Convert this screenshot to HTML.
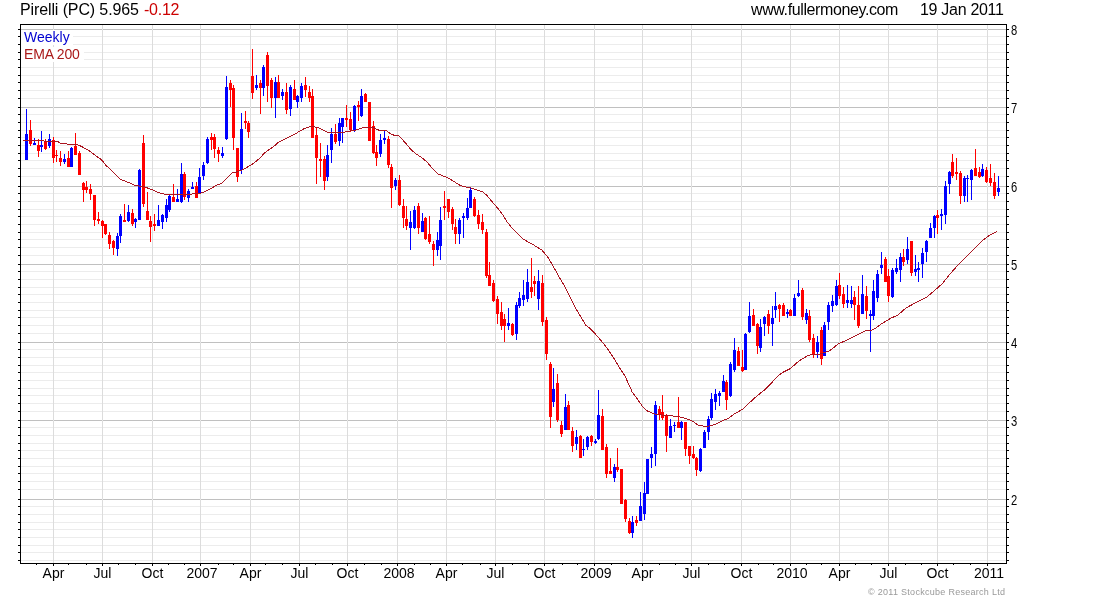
<!DOCTYPE html>
<html><head><meta charset="utf-8"><title>Pirelli (PC) weekly chart</title>
<style>html,body{margin:0;padding:0;background:#fff;overflow:hidden;width:1100px;height:600px}svg{display:block}</style>
</head><body>
<svg width="1100" height="600" viewBox="0 0 1100 600" shape-rendering="crispEdges">
<rect width="1100" height="600" fill="#fff"/>
<path d="M21 36.5H1006M21 44.5H1006M21 52.5H1006M21 59.5H1006M21 67.5H1006M21 75.5H1006M21 82.5H1006M21 90.5H1006M21 98.5H1006M21 114.5H1006M21 122.5H1006M21 130.5H1006M21 137.5H1006M21 145.5H1006M21 153.5H1006M21 160.5H1006M21 168.5H1006M21 176.5H1006M21 193.5H1006M21 201.5H1006M21 209.5H1006M21 216.5H1006M21 224.5H1006M21 232.5H1006M21 239.5H1006M21 247.5H1006M21 255.5H1006M21 271.5H1006M21 279.5H1006M21 287.5H1006M21 294.5H1006M21 302.5H1006M21 310.5H1006M21 317.5H1006M21 325.5H1006M21 333.5H1006M21 349.5H1006M21 357.5H1006M21 365.5H1006M21 372.5H1006M21 380.5H1006M21 388.5H1006M21 395.5H1006M21 403.5H1006M21 411.5H1006M21 427.5H1006M21 435.5H1006M21 443.5H1006M21 450.5H1006M21 458.5H1006M21 466.5H1006M21 473.5H1006M21 481.5H1006M21 489.5H1006M21 506.5H1006M21 514.5H1006M21 522.5H1006M21 529.5H1006M21 537.5H1006M21 545.5H1006M21 552.5H1006M21 560.5H1006" stroke="#ececec" stroke-width="1" fill="none"/>
<path d="M53.5 25V563M102.5 25V563M152.5 25V563M200.5 25V563M250.5 25V563M299.5 25V563M347.5 25V563M397.5 25V563M446.5 25V563M495.5 25V563M544.5 25V563M594.5 25V563M642.5 25V563M691.5 25V563M741.5 25V563M790.5 25V563M839.5 25V563M888.5 25V563M937.5 25V563M987.5 25V563" stroke="#dcdcdc" stroke-width="1" fill="none"/>
<path d="M21 29.5H1006M21 107.5H1006M21 186.5H1006M21 264.5H1006M21 342.5H1006M21 420.5H1006M21 499.5H1006" stroke="#c0c0c0" stroke-width="1" fill="none"/>
<path d="M53 29h1v1h-1zM53 107h1v1h-1zM53 186h1v1h-1zM53 264h1v1h-1zM53 342h1v1h-1zM53 420h1v1h-1zM53 499h1v1h-1zM102 29h1v1h-1zM102 107h1v1h-1zM102 186h1v1h-1zM102 264h1v1h-1zM102 342h1v1h-1zM102 420h1v1h-1zM102 499h1v1h-1zM152 29h1v1h-1zM152 107h1v1h-1zM152 186h1v1h-1zM152 264h1v1h-1zM152 342h1v1h-1zM152 420h1v1h-1zM152 499h1v1h-1zM200 29h1v1h-1zM200 107h1v1h-1zM200 186h1v1h-1zM200 264h1v1h-1zM200 342h1v1h-1zM200 420h1v1h-1zM200 499h1v1h-1zM250 29h1v1h-1zM250 107h1v1h-1zM250 186h1v1h-1zM250 264h1v1h-1zM250 342h1v1h-1zM250 420h1v1h-1zM250 499h1v1h-1zM299 29h1v1h-1zM299 107h1v1h-1zM299 186h1v1h-1zM299 264h1v1h-1zM299 342h1v1h-1zM299 420h1v1h-1zM299 499h1v1h-1zM347 29h1v1h-1zM347 107h1v1h-1zM347 186h1v1h-1zM347 264h1v1h-1zM347 342h1v1h-1zM347 420h1v1h-1zM347 499h1v1h-1zM397 29h1v1h-1zM397 107h1v1h-1zM397 186h1v1h-1zM397 264h1v1h-1zM397 342h1v1h-1zM397 420h1v1h-1zM397 499h1v1h-1zM446 29h1v1h-1zM446 107h1v1h-1zM446 186h1v1h-1zM446 264h1v1h-1zM446 342h1v1h-1zM446 420h1v1h-1zM446 499h1v1h-1zM495 29h1v1h-1zM495 107h1v1h-1zM495 186h1v1h-1zM495 264h1v1h-1zM495 342h1v1h-1zM495 420h1v1h-1zM495 499h1v1h-1zM544 29h1v1h-1zM544 107h1v1h-1zM544 186h1v1h-1zM544 264h1v1h-1zM544 342h1v1h-1zM544 420h1v1h-1zM544 499h1v1h-1zM594 29h1v1h-1zM594 107h1v1h-1zM594 186h1v1h-1zM594 264h1v1h-1zM594 342h1v1h-1zM594 420h1v1h-1zM594 499h1v1h-1zM642 29h1v1h-1zM642 107h1v1h-1zM642 186h1v1h-1zM642 264h1v1h-1zM642 342h1v1h-1zM642 420h1v1h-1zM642 499h1v1h-1zM691 29h1v1h-1zM691 107h1v1h-1zM691 186h1v1h-1zM691 264h1v1h-1zM691 342h1v1h-1zM691 420h1v1h-1zM691 499h1v1h-1zM741 29h1v1h-1zM741 107h1v1h-1zM741 186h1v1h-1zM741 264h1v1h-1zM741 342h1v1h-1zM741 420h1v1h-1zM741 499h1v1h-1zM790 29h1v1h-1zM790 107h1v1h-1zM790 186h1v1h-1zM790 264h1v1h-1zM790 342h1v1h-1zM790 420h1v1h-1zM790 499h1v1h-1zM839 29h1v1h-1zM839 107h1v1h-1zM839 186h1v1h-1zM839 264h1v1h-1zM839 342h1v1h-1zM839 420h1v1h-1zM839 499h1v1h-1zM888 29h1v1h-1zM888 107h1v1h-1zM888 186h1v1h-1zM888 264h1v1h-1zM888 342h1v1h-1zM888 420h1v1h-1zM888 499h1v1h-1zM937 29h1v1h-1zM937 107h1v1h-1zM937 186h1v1h-1zM937 264h1v1h-1zM937 342h1v1h-1zM937 420h1v1h-1zM937 499h1v1h-1zM987 29h1v1h-1zM987 107h1v1h-1zM987 186h1v1h-1zM987 264h1v1h-1zM987 342h1v1h-1zM987 420h1v1h-1zM987 499h1v1h-1z" fill="#e6e6e6"/>
<rect x="21" y="30" width="52" height="15" fill="#fff"/>
<rect x="21" y="47" width="63" height="15" fill="#fff"/>
<path d="M26.5 109V160M34.5 138V145M41.5 131V152M49.5 134V148M64.5 154V164M71.5 147V167M117.5 233V256M120.5 214V243M128.5 205V222M135.5 218V228M139.5 169V220M158.5 205V226M162.5 214V229M166.5 199V222M169.5 195V212M177.5 189V202M181.5 163V203M188.5 189V202M192.5 182V189M199.5 168V194M203.5 162V180M207.5 137V164M222.5 147V158M226.5 76V140M241.5 113V174M256.5 75V90M263.5 65V96M275.5 77V118M282.5 89V100M290.5 85V116M297.5 95V108M301.5 83V102M327.5 145V181M331.5 128V163M339.5 118V146M342.5 118V143M354.5 105V132M361.5 89V117M380.5 134V157M384.5 131V144M395.5 178V190M410.5 211V250M414.5 206V229M422.5 213V232M437.5 232V256M440.5 207V260M459.5 218V244M463.5 213V238M467.5 198V220M470.5 187V208M508.5 308V330M516.5 302V340M519.5 292V308M523.5 280V306M527.5 269V302M538.5 270V310M553.5 368V407M565.5 394V430M576.5 430V450M583.5 439V456M587.5 436V450M595.5 439V444M598.5 390V440M614.5 464V482M632.5 516V538M640.5 492V521M644.5 482V520M647.5 459V494M651.5 447V468M655.5 401V466M670.5 419V438M674.5 422V432M681.5 421V440M700.5 448V472M704.5 430V448M708.5 416V440M711.5 393V420M715.5 389V410M719.5 391V406M723.5 375V392M730.5 362V397M734.5 338V372M745.5 333V370M749.5 302V333M760.5 319V352M764.5 316V336M772.5 306V346M775.5 292V318M787.5 309V318M794.5 294V316M798.5 280V297M806.5 309V324M817.5 336V358M824.5 322V356M828.5 302V330M832.5 295V312M836.5 280V306M847.5 285V308M851.5 286V308M862.5 275V314M870.5 310V352M873.5 280V320M877.5 270V302M881.5 252V274M892.5 268V298M896.5 259V274M900.5 253V282M907.5 237V264M915.5 255V276M918.5 262V282M922.5 248V278M926.5 240V262M930.5 223V238M934.5 215V238M941.5 209V230M945.5 181V224M949.5 171V194M964.5 176V202M967.5 175V202M971.5 169V200M982.5 164V177M998.5 176V196" stroke="#0000ff" stroke-width="1" fill="none"/>
<path d="M30.5 120V146M38.5 139V157M45.5 139V150M53.5 137V163M56.5 150V162M60.5 151V166M68.5 151V167M75.5 133V155M79.5 151V175M83.5 182V202M86.5 181V193M90.5 184V200M94.5 195V226M98.5 212V224M102.5 220V238M105.5 224V235M109.5 232V249M113.5 240V255M124.5 204V222M132.5 209V226M143.5 135V207M147.5 192V220M150.5 216V242M154.5 214V231M173.5 184V202M184.5 172V200M196.5 182V198M211.5 133V150M214.5 134V158M218.5 147V162M230.5 80V107M233.5 85V150M237.5 148V182M245.5 111V129M248.5 121V138M252.5 49V99M260.5 80V114M267.5 52V102M271.5 78V108M278.5 75V98M286.5 83V114M294.5 80V100M305.5 77V97M309.5 86V102M312.5 89V138M316.5 127V184M320.5 143V177M324.5 156V190M335.5 124V144M346.5 105V127M350.5 112V132M358.5 101V121M365.5 93V102M369.5 102V141M373.5 121V154M376.5 145V166M388.5 136V168M391.5 164V208M399.5 175V206M403.5 199V228M406.5 206V230M418.5 203V234M425.5 217V240M429.5 216V244M433.5 241V266M444.5 191V220M448.5 199V218M452.5 207V230M455.5 219V244M474.5 197V217M478.5 210V229M482.5 214V234M486.5 229V278M489.5 262V286M493.5 280V302M497.5 296V324M501.5 302V330M504.5 314V342M512.5 323V336M531.5 258V298M534.5 276V296M542.5 275V326M546.5 317V360M550.5 362V428M557.5 374V422M561.5 421V437M568.5 401V430M572.5 427V452M580.5 435V458M591.5 435V446M602.5 409V450M606.5 444V478M610.5 458V474M617.5 448V472M621.5 469V504M625.5 499V522M629.5 518V534M636.5 516V526M659.5 406V420M662.5 395V420M666.5 414V452M678.5 397V428M685.5 422V456M689.5 446V464M693.5 446V459M696.5 457V476M726.5 380V410M738.5 347V366M742.5 350V372M753.5 309V326M757.5 323V354M768.5 310V334M779.5 304V322M783.5 303V316M790.5 309V316M802.5 288V320M809.5 310V342M813.5 334V358M821.5 327V365M839.5 273V299M843.5 287V308M854.5 291V320M858.5 286V328M866.5 286V319M885.5 257V282M888.5 269V302M903.5 249V266M911.5 241V276M937.5 210V234M952.5 154V178M956.5 158V180M960.5 171V204M975.5 149V176M979.5 167V178M986.5 167V183M990.5 164V186M994.5 173V199" stroke="#ff0000" stroke-width="1" fill="none"/>
<path d="M25 134h3V160h-3zM33 143h3V145h-3zM40 145h3V147h-3zM48 139h3V146h-3zM63 159h3V162h-3zM70 148h3V167h-3zM116 236h3V249h-3zM119 216h3V236h-3zM127 212h3V221h-3zM134 219h3V222h-3zM138 170h3V220h-3zM157 220h3V226h-3zM161 215h3V222h-3zM165 205h3V218h-3zM168 196h3V210h-3zM176 199h3V202h-3zM180 174h3V202h-3zM187 191h3V198h-3zM191 187h3V189h-3zM198 177h3V194h-3zM202 165h3V176h-3zM206 139h3V163h-3zM221 153h3V156h-3zM225 87h3V139h-3zM240 129h3V170h-3zM255 85h3V88h-3zM262 67h3V88h-3zM274 82h3V98h-3zM281 92h3V96h-3zM289 87h3V109h-3zM296 96h3V102h-3zM300 86h3V98h-3zM326 155h3V177h-3zM330 134h3V150h-3zM338 123h3V141h-3zM341 118h3V127h-3zM353 106h3V131h-3zM360 96h3V116h-3zM379 140h3V154h-3zM383 138h3V140h-3zM394 180h3V186h-3zM409 222h3V228h-3zM413 210h3V228h-3zM421 221h3V232h-3zM436 240h3V250h-3zM439 220h3V246h-3zM458 220h3V234h-3zM462 216h3V218h-3zM466 208h3V218h-3zM469 190h3V208h-3zM507 323h3V326h-3zM515 305h3V334h-3zM518 298h3V306h-3zM522 295h3V300h-3zM526 282h3V299h-3zM537 281h3V299h-3zM552 389h3V402h-3zM564 407h3V430h-3zM575 437h3V444h-3zM582 449h3V450h-3zM586 437h3V447h-3zM594 441h3V443h-3zM597 415h3V439h-3zM613 467h3V478h-3zM631 522h3V533h-3zM639 506h3V521h-3zM643 493h3V514h-3zM646 459h3V494h-3zM650 454h3V458h-3zM654 405h3V454h-3zM669 426h3V438h-3zM673 425h3V426h-3zM680 422h3V428h-3zM699 449h3V471h-3zM703 432h3V448h-3zM707 419h3V432h-3zM710 399h3V418h-3zM714 394h3V402h-3zM718 393h3V396h-3zM722 381h3V392h-3zM729 364h3V396h-3zM733 350h3V370h-3zM744 334h3V370h-3zM748 316h3V332h-3zM759 327h3V348h-3zM763 317h3V324h-3zM771 318h3V324h-3zM774 306h3V310h-3zM786 312h3V314h-3zM793 298h3V316h-3zM797 293h3V296h-3zM805 313h3V320h-3zM816 342h3V352h-3zM823 325h3V356h-3zM827 305h3V322h-3zM831 301h3V306h-3zM835 286h3V305h-3zM846 300h3V303h-3zM850 300h3V304h-3zM861 294h3V314h-3zM869 314h3V316h-3zM872 291h3V316h-3zM876 274h3V298h-3zM880 265h3V268h-3zM891 270h3V297h-3zM895 268h3V272h-3zM899 257h3V270h-3zM906 249h3V260h-3zM914 269h3V272h-3zM917 268h3V270h-3zM921 253h3V264h-3zM925 241h3V252h-3zM929 228h3V238h-3zM933 216h3V228h-3zM940 214h3V216h-3zM944 186h3V215h-3zM948 172h3V184h-3zM963 178h3V196h-3zM966 178h3V179h-3zM970 170h3V180h-3zM981 169h3V176h-3zM997 188h3V192h-3z" fill="#0000ff"/>
<path d="M29 130h3V144h-3zM37 145h3V151h-3zM44 141h3V149h-3zM52 140h3V158h-3zM55 155h3V156h-3zM59 158h3V162h-3zM67 158h3V167h-3zM74 146h3V155h-3zM78 153h3V175h-3zM82 183h3V190h-3zM85 187h3V190h-3zM89 189h3V194h-3zM93 195h3V220h-3zM97 219h3V221h-3zM101 221h3V226h-3zM104 224h3V234h-3zM108 235h3V244h-3zM112 241h3V248h-3zM123 220h3V222h-3zM131 213h3V224h-3zM142 143h3V204h-3zM146 211h3V220h-3zM149 221h3V227h-3zM153 224h3V226h-3zM172 197h3V202h-3zM183 174h3V197h-3zM195 186h3V198h-3zM210 137h3V140h-3zM213 137h3V149h-3zM217 150h3V154h-3zM229 83h3V90h-3zM232 88h3V138h-3zM236 148h3V177h-3zM244 121h3V123h-3zM247 123h3V132h-3zM251 76h3V93h-3zM259 83h3V88h-3zM266 55h3V86h-3zM270 80h3V98h-3zM277 82h3V98h-3zM285 92h3V110h-3zM293 89h3V100h-3zM304 85h3V90h-3zM308 92h3V98h-3zM311 96h3V138h-3zM315 135h3V158h-3zM319 159h3V161h-3zM323 159h3V181h-3zM334 134h3V142h-3zM345 118h3V120h-3zM349 119h3V130h-3zM357 105h3V107h-3zM364 94h3V102h-3zM368 102h3V141h-3zM372 126h3V153h-3zM375 152h3V158h-3zM387 139h3V165h-3zM390 167h3V188h-3zM398 180h3V205h-3zM402 206h3V218h-3zM405 219h3V226h-3zM417 206h3V228h-3zM424 218h3V239h-3zM428 234h3V242h-3zM432 244h3V250h-3zM443 206h3V208h-3zM447 199h3V212h-3zM451 209h3V224h-3zM454 227h3V234h-3zM473 199h3V216h-3zM477 215h3V224h-3zM481 222h3V230h-3zM485 232h3V276h-3zM488 275h3V286h-3zM492 283h3V301h-3zM496 299h3V314h-3zM500 312h3V326h-3zM503 319h3V326h-3zM511 324h3V335h-3zM530 287h3V292h-3zM533 281h3V284h-3zM541 283h3V322h-3zM545 320h3V354h-3zM549 364h3V417h-3zM556 383h3V420h-3zM560 425h3V434h-3zM567 405h3V430h-3zM571 431h3V446h-3zM579 436h3V458h-3zM590 436h3V442h-3zM601 416h3V450h-3zM605 447h3V474h-3zM609 471h3V474h-3zM616 467h3V470h-3zM620 469h3V504h-3zM624 500h3V519h-3zM628 521h3V533h-3zM635 520h3V523h-3zM658 409h3V414h-3zM661 412h3V418h-3zM665 416h3V436h-3zM677 422h3V428h-3zM684 422h3V449h-3zM688 446h3V456h-3zM692 454h3V458h-3zM695 458h3V470h-3zM725 382h3V400h-3zM737 351h3V366h-3zM741 367h3V371h-3zM752 315h3V326h-3zM756 324h3V346h-3zM767 314h3V326h-3zM778 305h3V309h-3zM782 305h3V316h-3zM789 310h3V316h-3zM801 290h3V317h-3zM808 316h3V340h-3zM812 338h3V354h-3zM820 330h3V359h-3zM838 285h3V296h-3zM842 294h3V304h-3zM853 297h3V305h-3zM857 305h3V326h-3zM865 296h3V311h-3zM884 259h3V282h-3zM887 276h3V296h-3zM902 257h3V262h-3zM910 241h3V273h-3zM936 215h3V218h-3zM951 162h3V176h-3zM955 172h3V174h-3zM959 173h3V196h-3zM974 168h3V176h-3zM978 172h3V177h-3zM985 170h3V182h-3zM989 178h3V183h-3zM993 182h3V196h-3z" fill="#ff0000"/>
<polyline points="23,140.5 43.5,140.5 44.5,141.4 58.5,141.8 59.5,143 66.5,143.3 67.5,144.5 77,144.6 80,145.7 83.3,147.5 86.7,149.2 90,151.3 93.3,153.8 96.7,156.3 101.7,160 103.3,162 106.7,166.3 108.3,167.1 113.3,172.1 120,179.2 126.7,181.7 135,185.4 144.2,186.7 151.7,189.6 158.3,192.5 165,194.3 190,194.3 195,193.5 201,193 205,191.5 211,188.5 217,185 222,183.2 233,172.2 236,172.2 243,169.5 248,166.8 254,163 260,158 265,152.5 270,149 275,145.5 278,142.7 286.3,138.3 294.7,134.2 303,129.2 308,127.1 313.8,126.7 319.7,128.2 324.7,130.8 328,132.3 343.8,132.3 347.2,131.25 353,130.8 358,129.3 363,127.7 365,127.2 373,127.2 377,129.5 379,130.2 386,130.5 391,134 394,135.2 399,136 402,139 404,141.3 406,143.5 408,146 411,149.5 416,154 421,157 427,162 432,168 438,174 442,175.5 447,177.5 453.3,181 458.7,184.7 464,186.7 470.7,188 477.3,190 482.7,192 486.7,195.3 490.7,200 494.7,204.7 498.7,209.3 502.7,214.7 506.7,221.3 512,228 517.3,233.3 522.7,238.7 527.3,241.4 534.7,245.6 542,250.2 547.5,256.6 553,265.8 558.5,275.9 564,285 569.5,296 575,307 580.5,316.2 586,325.4 589.7,328.2 593.4,331.8 597.5,336.5 603,342.9 608.5,350.3 614,358.5 619.5,367.7 625,376 628.7,384.2 632.4,392.5 637.9,399.8 643.4,407.7 647,410.8 654.4,413.9 661.7,415 670,415.6 680,417 686,418.5 692,420.8 698,425 704,426.2 709,426 715,424.5 720,421.9 729,418 735,413.5 742.5,409.3 750,402.2 757.5,395.5 765,389.5 771,383.5 777,376.7 783,372.2 790.5,368.5 796,363.5 802,359 808,355.5 812,354.5 820,354 825,352.5 830,350.5 834,347.5 838,344 842,342.2 848,339.5 854,336.5 860,333.5 866,330.5 871,330.5 876,328 881,324 886,321.2 890,318.6 898,315 906,308 914,303.6 926,297.6 934,291 942,284 950,274 958,265 966,257 974,249 982,241 990,235 997,231.6" fill="none" stroke="#aa1520" stroke-width="1" shape-rendering="crispEdges"/>
<rect x="20.5" y="24.5" width="986" height="539" fill="none" stroke="#000" stroke-width="1"/>
<path d="M18 29.5H20M18 36.5H20M18 44.5H20M18 52.5H20M18 59.5H20M18 67.5H20M18 75.5H20M18 82.5H20M18 90.5H20M18 98.5H20M18 107.5H20M18 114.5H20M18 122.5H20M18 130.5H20M18 137.5H20M18 145.5H20M18 153.5H20M18 160.5H20M18 168.5H20M18 176.5H20M18 186.5H20M18 193.5H20M18 201.5H20M18 209.5H20M18 216.5H20M18 224.5H20M18 232.5H20M18 239.5H20M18 247.5H20M18 255.5H20M18 264.5H20M18 271.5H20M18 279.5H20M18 287.5H20M18 294.5H20M18 302.5H20M18 310.5H20M18 317.5H20M18 325.5H20M18 333.5H20M18 342.5H20M18 349.5H20M18 357.5H20M18 365.5H20M18 372.5H20M18 380.5H20M18 388.5H20M18 395.5H20M18 403.5H20M18 411.5H20M18 420.5H20M18 427.5H20M18 435.5H20M18 443.5H20M18 450.5H20M18 458.5H20M18 466.5H20M18 473.5H20M18 481.5H20M18 489.5H20M18 499.5H20M18 506.5H20M18 514.5H20M18 522.5H20M18 529.5H20M18 537.5H20M18 545.5H20M18 552.5H20M18 560.5H20M1007 29.5H1009M1007 36.5H1009M1007 44.5H1009M1007 52.5H1009M1007 59.5H1009M1007 67.5H1009M1007 75.5H1009M1007 82.5H1009M1007 90.5H1009M1007 98.5H1009M1007 107.5H1009M1007 114.5H1009M1007 122.5H1009M1007 130.5H1009M1007 137.5H1009M1007 145.5H1009M1007 153.5H1009M1007 160.5H1009M1007 168.5H1009M1007 176.5H1009M1007 186.5H1009M1007 193.5H1009M1007 201.5H1009M1007 209.5H1009M1007 216.5H1009M1007 224.5H1009M1007 232.5H1009M1007 239.5H1009M1007 247.5H1009M1007 255.5H1009M1007 264.5H1009M1007 271.5H1009M1007 279.5H1009M1007 287.5H1009M1007 294.5H1009M1007 302.5H1009M1007 310.5H1009M1007 317.5H1009M1007 325.5H1009M1007 333.5H1009M1007 342.5H1009M1007 349.5H1009M1007 357.5H1009M1007 365.5H1009M1007 372.5H1009M1007 380.5H1009M1007 388.5H1009M1007 395.5H1009M1007 403.5H1009M1007 411.5H1009M1007 420.5H1009M1007 427.5H1009M1007 435.5H1009M1007 443.5H1009M1007 450.5H1009M1007 458.5H1009M1007 466.5H1009M1007 473.5H1009M1007 481.5H1009M1007 489.5H1009M1007 499.5H1009M1007 506.5H1009M1007 514.5H1009M1007 522.5H1009M1007 529.5H1009M1007 537.5H1009M1007 545.5H1009M1007 552.5H1009M1007 560.5H1009M53.5 564V566M102.5 564V566M152.5 564V566M200.5 564V566M250.5 564V566M299.5 564V566M347.5 564V566M397.5 564V566M446.5 564V566M495.5 564V566M544.5 564V566M594.5 564V566M642.5 564V566M691.5 564V566M741.5 564V566M790.5 564V566M839.5 564V566M888.5 564V566M937.5 564V566M987.5 564V566M36.5 564V565M68.5 564V565M86.5 564V565M118.5 564V565M135.5 564V565M168.5 564V565M184.5 564V565M218.5 564V565M233.5 564V565M265.5 564V565M282.5 564V565M315.5 564V565M332.5 564V565M364.5 564V565M381.5 564V565M414.5 564V565M430.5 564V565M462.5 564V565M480.5 564V565M512.5 564V565M528.5 564V565M562.5 564V565M577.5 564V565M611.5 564V565M626.5 564V565M659.5 564V565M675.5 564V565M708.5 564V565M724.5 564V565M758.5 564V565M773.5 564V565M806.5 564V565M821.5 564V565M855.5 564V565M871.5 564V565M905.5 564V565M921.5 564V565M953.5 564V565M970.5 564V565" stroke="#000" stroke-width="1" fill="none"/>
<g style="opacity:0.999">
<text x="20" y="15" font-family="'Liberation Sans', Arial, sans-serif" font-size="16" fill="#000" textLength="118.94" lengthAdjust="spacing">Pirelli (PC) 5.965</text>
<text x="144" y="15" font-family="'Liberation Sans', Arial, sans-serif" font-size="16" fill="#cc0000" textLength="35.47" lengthAdjust="spacing">-0.12</text>
<text x="751" y="15" font-family="'Liberation Sans', Arial, sans-serif" font-size="16" fill="#000" textLength="147.42" lengthAdjust="spacing">www.fullermoney.com</text>
<text x="920" y="15" font-family="'Liberation Sans', Arial, sans-serif" font-size="16" fill="#000" textLength="83.89" lengthAdjust="spacing">19 Jan 2011</text>
<text x="24" y="42" font-family="'Liberation Sans', Arial, sans-serif" font-size="14" fill="#0000d0" textLength="45.66" lengthAdjust="spacing">Weekly</text>
<text x="24" y="59" font-family="'Liberation Sans', Arial, sans-serif" font-size="14" fill="#aa1a1a" textLength="55.83" lengthAdjust="spacing">EMA 200</text>
<text transform="translate(1011,35) scale(0.8,1)" font-family="'Liberation Sans', Arial, sans-serif" font-size="14" fill="#000">8</text>
<text transform="translate(1011,113) scale(0.8,1)" font-family="'Liberation Sans', Arial, sans-serif" font-size="14" fill="#000">7</text>
<text transform="translate(1011,192) scale(0.8,1)" font-family="'Liberation Sans', Arial, sans-serif" font-size="14" fill="#000">6</text>
<text transform="translate(1011,270) scale(0.8,1)" font-family="'Liberation Sans', Arial, sans-serif" font-size="14" fill="#000">5</text>
<text transform="translate(1011,348) scale(0.8,1)" font-family="'Liberation Sans', Arial, sans-serif" font-size="14" fill="#000">4</text>
<text transform="translate(1011,426) scale(0.8,1)" font-family="'Liberation Sans', Arial, sans-serif" font-size="14" fill="#000">3</text>
<text transform="translate(1011,505) scale(0.8,1)" font-family="'Liberation Sans', Arial, sans-serif" font-size="14" fill="#000">2</text>
<text x="53.5" y="578" font-family="'Liberation Sans', Arial, sans-serif" font-size="14" fill="#000" text-anchor="middle">Apr</text>
<text x="102.5" y="578" font-family="'Liberation Sans', Arial, sans-serif" font-size="14" fill="#000" text-anchor="middle">Jul</text>
<text x="152.5" y="578" font-family="'Liberation Sans', Arial, sans-serif" font-size="14" fill="#000" text-anchor="middle">Oct</text>
<text x="202.0" y="578" font-family="'Liberation Sans', Arial, sans-serif" font-size="14" fill="#000" text-anchor="middle">2007</text>
<text x="250.5" y="578" font-family="'Liberation Sans', Arial, sans-serif" font-size="14" fill="#000" text-anchor="middle">Apr</text>
<text x="299.5" y="578" font-family="'Liberation Sans', Arial, sans-serif" font-size="14" fill="#000" text-anchor="middle">Jul</text>
<text x="347.5" y="578" font-family="'Liberation Sans', Arial, sans-serif" font-size="14" fill="#000" text-anchor="middle">Oct</text>
<text x="399.0" y="578" font-family="'Liberation Sans', Arial, sans-serif" font-size="14" fill="#000" text-anchor="middle">2008</text>
<text x="446.5" y="578" font-family="'Liberation Sans', Arial, sans-serif" font-size="14" fill="#000" text-anchor="middle">Apr</text>
<text x="495.5" y="578" font-family="'Liberation Sans', Arial, sans-serif" font-size="14" fill="#000" text-anchor="middle">Jul</text>
<text x="544.5" y="578" font-family="'Liberation Sans', Arial, sans-serif" font-size="14" fill="#000" text-anchor="middle">Oct</text>
<text x="596.0" y="578" font-family="'Liberation Sans', Arial, sans-serif" font-size="14" fill="#000" text-anchor="middle">2009</text>
<text x="642.5" y="578" font-family="'Liberation Sans', Arial, sans-serif" font-size="14" fill="#000" text-anchor="middle">Apr</text>
<text x="691.5" y="578" font-family="'Liberation Sans', Arial, sans-serif" font-size="14" fill="#000" text-anchor="middle">Jul</text>
<text x="741.5" y="578" font-family="'Liberation Sans', Arial, sans-serif" font-size="14" fill="#000" text-anchor="middle">Oct</text>
<text x="792.0" y="578" font-family="'Liberation Sans', Arial, sans-serif" font-size="14" fill="#000" text-anchor="middle">2010</text>
<text x="839.5" y="578" font-family="'Liberation Sans', Arial, sans-serif" font-size="14" fill="#000" text-anchor="middle">Apr</text>
<text x="888.5" y="578" font-family="'Liberation Sans', Arial, sans-serif" font-size="14" fill="#000" text-anchor="middle">Jul</text>
<text x="937.5" y="578" font-family="'Liberation Sans', Arial, sans-serif" font-size="14" fill="#000" text-anchor="middle">Oct</text>
<text x="989.0" y="578" font-family="'Liberation Sans', Arial, sans-serif" font-size="14" fill="#000" text-anchor="middle">2011</text>
<text x="868" y="595" font-family="'Liberation Sans', Arial, sans-serif" font-size="9" fill="#999" textLength="137.05" lengthAdjust="spacing">© 2011 Stockcube Research Ltd</text>
</g>
</svg>
</body></html>
